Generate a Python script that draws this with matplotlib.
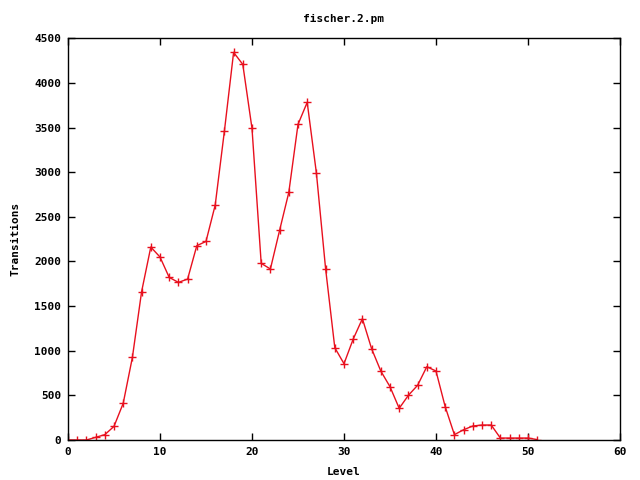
import matplotlib
matplotlib.use('Agg')
import matplotlib.pyplot as plt
import numpy as np

plt.rcParams["font.family"] = 'DejaVu Sans Mono'
plt.rcParams["font.weight"] = 'bold'
plt.rcParams["axes.titleweight"] = 'bold'
plt.rcParams["axes.labelweight"] = 'bold'
plt.rcParams["font.size"] = 8

# transitions per level
level = list(range(0, 52))
transitions = [0, 0, 0, 30, 60, 153, 411, 926, 1662, 2162,
               2050, 1822, 1766, 1803, 2177, 2225, 2632, 3461, 4343, 4208,
               3491, 1979, 1916, 2349, 2774, 3536, 3783, 2991, 1919, 1034,
               855, 1131, 1359, 1023, 773, 597, 355, 501, 613, 821,
               773, 373, 60, 115, 157, 168, 168, 22, 22, 22,
               22, 5]
xticks = np.arange(0, 61, 10)
yticks = np.arange(0, 4501, 500)

fig = plt.figure(figsize=(6.4, 4.8), dpi=100)
ax = fig.add_axes([0.10625, 0.0833, 0.8625, 0.8368])
ax.plot(level, transitions, color='#e8101e', linewidth=1, marker='+',
        markersize=5.5, markeredgewidth=1)

ax.set_xlim(0, 60)
ax.set_ylim(0, 4500)
ax.set_xticks(xticks)
ax.set_yticks(yticks)
ax.tick_params(direction='in', length=5, width=1, top=True, right=True,
               labelsize=8, pad=5)
for s in ax.spines.values():
    s.set_linewidth(1)

ax.set_xlabel('Level', fontsize=8, fontweight='bold', labelpad=7)
ax.set_ylabel('Transitions', fontsize=8, fontweight='bold', labelpad=10)
ax.set_title('fischer.2.pm', fontsize=8, fontweight='bold', pad=12)

plt.savefig('out.png', dpi=100)
